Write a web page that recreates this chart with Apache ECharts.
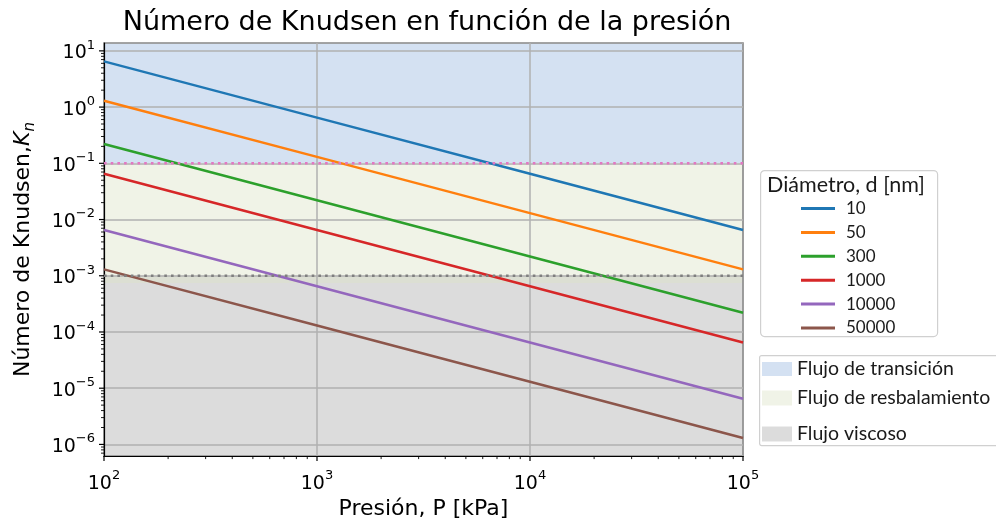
<!DOCTYPE html>
<html><head><meta charset="utf-8">
<script src="https://cdn.jsdelivr.net/npm/echarts@6/dist/echarts.min.js"></script>
<style>html,body{margin:0;padding:0;background:#fff}#c{width:996px;height:525px}</style>
</head><body><div id="c"></div><script>
// ---- data ----
const pressure = [100, 1000, 10000, 100000];
const diameterNames = ['10', '50', '300', '1000', '10000', '50000'];
const kn10    = [6.5, 0.65, 0.065, 0.0065];
const kn50    = [1.3, 0.13, 0.013, 0.0013];
const kn300   = [0.22, 0.022, 0.0022, 0.00022];
const kn1000  = [0.065, 0.0065, 0.00065, 0.000065];
const kn10000 = [0.0065, 0.00065, 0.000065, 0.0000065];
const kn50000 = [0.0013, 0.00013, 0.000013, 0.0000013];
const knSeries = [kn10, kn50, kn300, kn1000, kn10000, kn50000];
const regionNames = ['Flujo de transición', 'Flujo de resbalamiento', 'Flujo viscoso'];
const xRange = [100, 100000];
const yRange = [6.2e-7, 13.8];
const transitionBand = [0.1, 13.8];
const slipBand = [0.001, 0.1];
const viscousBand = [6.2e-7, 0.001];
const overlapBand = [7.4e-4, 0.001];
const transitionLimit = [0.1, 0.1];
const slipLimit = [0.001, 0.001];
const xMajorTicks = [100, 1000, 10000, 100000];
const yMajorTicks = [1e-6, 1e-5, 1e-4, 1e-3, 1e-2, 1e-1, 1, 10];
const minorMultipliers = [2, 3, 4, 5, 6, 7, 8, 9];

// ---- style ----
const lineColors = ['#1f77b4', '#ff7f0e', '#2ca02c', '#d62728', '#9467bd', '#8c564b'];
const regionColors = ['#d4e1f2', '#f0f3e7', '#dcdcdc'];
const FONT = 'DejaVu Sans';
const LFONT = 'Lato';

function minorOf(majors, lo, hi) {
  const out = [];
  const decades = [majors[0] / 10].concat(majors);
  decades.forEach(d => minorMultipliers.forEach(m => { const v = d * m; if (v > lo && v < hi) out.push(v); }));
  return out;
}
const xMinorTicks = minorOf(xMajorTicks, xRange[0], xRange[1]);
const yMinorTicks = minorOf(yMajorTicks, yRange[0], yRange[1]);

function powLabel(v) {
  const l = Math.log10(v), e = Math.round(l);
  if (Math.abs(l - e) > 0.01) return '';
  return '{b|10}{s|' + (e < 0 ? '\u2212' + (-e) : e) + '}';
}
const labelRich = {
  b: { fontFamily: FONT, fontSize: 19, lineHeight: 24, verticalAlign: 'bottom', color: '#000' },
  s: { fontFamily: FONT, fontSize: 13, lineHeight: 24, verticalAlign: 'top', color: '#000' }
};

function bandSeries(name, band, color, z) {
  return {
    type: 'custom', name: name, z: z, silent: true, clip: true,
    itemStyle: { color: color },
    encode: { x: [0, 2], y: [1, 3] },
    data: [[xRange[0], band[0], xRange[1], band[1]]],
    renderItem: function (params, api) {
      const p1 = api.coord([api.value(0), api.value(1)]);
      const p2 = api.coord([api.value(2), api.value(3)]);
      return { type: 'rect', shape: { x: p1[0], y: p2[1], width: p2[0] - p1[0], height: p1[1] - p2[1] },
               style: { fill: color } };
    }
  };
}
function tickSeries(vals, axis, len, w) {
  return {
    type: 'custom', silent: true, clip: false, z: 6,
    data: vals.map(v => axis === 'x' ? [v, yRange[0]] : [xRange[0], v]),
    renderItem: function (params, api) {
      const p = api.coord([api.value(0), api.value(1)]);
      const shape = axis === 'x' ? { x1: p[0], y1: p[1], x2: p[0], y2: p[1] + len }
                                 : { x1: p[0] - len, y1: p[1], x2: p[0], y2: p[1] };
      return { type: 'line', shape: shape, style: { stroke: '#000', lineWidth: w } };
    }
  };
}

const series = [];
series.push(bandSeries(regionNames[0], transitionBand, regionColors[0], -3));
series.push(bandSeries(regionNames[1], slipBand, regionColors[1], -3));
series.push(bandSeries(regionNames[2], viscousBand, regionColors[2], -3));
series.push(bandSeries('overlap', overlapBand, '#dcdfd3', -2));
knSeries.forEach((arr, i) => series.push({
  type: 'line', name: diameterNames[i], showSymbol: false, symbol: 'none', z: 3,
  color: lineColors[i], lineStyle: { color: lineColors[i], width: 2.5 },
  data: pressure.map((p, j) => [p, arr[j]])
}));
series.push({ type: 'line', name: 'limTrans', symbol: 'none', z: 4, silent: true,
  lineStyle: { color: '#e377c2', width: 2.6, type: [2.6, 4.1] },
  data: xRange.map((x, j) => [x, transitionLimit[j]]) });
series.push({ type: 'line', name: 'limSlip', symbol: 'none', z: 4, silent: true,
  lineStyle: { color: '#7f7f7f', width: 2.6, type: [2.6, 4.1] },
  data: xRange.map((x, j) => [x, slipLimit[j]]) });
series.push(tickSeries(xMajorTicks, 'x', 5, 1.2));
series.push(tickSeries(yMajorTicks, 'y', 5, 1.2));
series.push(tickSeries(xMinorTicks, 'x', 3, 0.9));
series.push(tickSeries(yMinorTicks, 'y', 3, 0.9));

const chart = echarts.init(document.getElementById('c'), null, { renderer: 'canvas' });
chart.setOption({
  animation: false,
  backgroundColor: '#fff',
  title: { text: 'Número de Knudsen en función de la presión', left: 422, textAlign: 'center', top: 4,
    textStyle: { fontFamily: FONT, fontSize: 27, fontWeight: 'normal', color: '#000' } },
  grid: { left: 100, right: 253, top: 43, bottom: 65, show: true, borderColor: '#000', borderWidth: 1.2,
    backgroundColor: 'transparent' },
  xAxis: {
    type: 'log', logBase: 10, min: xRange[0], max: xRange[1], splitNumber: 3,
    name: 'Presión, P [kPa]', nameLocation: 'middle', nameGap: 41,
    nameTextStyle: { fontFamily: FONT, fontSize: 22, color: '#000' },
    axisLine: { show: true, lineStyle: { color: '#000', width: 1.2 } },
    axisTick: { show: false },
    axisLabel: { formatter: powLabel, rich: labelRich, margin: 13 },
    splitLine: { show: true, lineStyle: { color: '#b0b0b0', width: 1.5 } }
  },
  yAxis: {
    type: 'log', logBase: 10, min: yRange[0], max: yRange[1], splitNumber: 7,
    name: 'Número de Knudsen,{k|K}{n|n}', nameLocation: 'middle', nameGap: 66, nameRotate: 90,
    nameTextStyle: { fontFamily: FONT, fontSize: 22, color: '#000', lineHeight: 30,
      rich: { k: { fontFamily: FONT, fontSize: 22, fontStyle: 'italic', lineHeight: 30, color: '#000' },
              n: { fontFamily: FONT, fontSize: 15, fontStyle: 'italic', lineHeight: 30, verticalAlign: 'bottom', color: '#000' } } },
    axisLine: { show: true, lineStyle: { color: '#000', width: 1.2 } },
    axisTick: { show: false },
    axisLabel: { formatter: powLabel, rich: labelRich, margin: 9 },
    splitLine: { show: true, lineStyle: { color: '#b0b0b0', width: 1.5 } }
  },
  legend: [
    { data: diameterNames, orient: 'vertical', left: 801, top: 200, padding: 0, itemGap: 6.9,
      icon: 'rect', itemWidth: 34, itemHeight: 3, selectedMode: false,
      textStyle: { fontFamily: LFONT, fontSize: 17, lineHeight: 16, color: '#1a1a1a', padding: [0, 0, 0, 6] } },
    { data: [regionNames[0]], left: 762, top: 359, padding: 0, icon: 'rect', itemWidth: 30, itemHeight: 14, selectedMode: false,
      textStyle: { fontFamily: LFONT, fontSize: 19.5, lineHeight: 14, color: '#1a1a1a' } },
    { data: [regionNames[1]], left: 762, top: 388, padding: 0, icon: 'rect', itemWidth: 30, itemHeight: 15, selectedMode: false,
      textStyle: { fontFamily: LFONT, fontSize: 19.5, lineHeight: 15, color: '#1a1a1a' } },
    { data: [regionNames[2]], left: 762, top: 424, padding: 0, icon: 'rect', itemWidth: 30, itemHeight: 15, selectedMode: false,
      textStyle: { fontFamily: LFONT, fontSize: 19.5, lineHeight: 15, color: '#1a1a1a' } }
  ],
  graphic: [
    { type: 'rect', left: 760, top: 170, z: 1, shape: { width: 177, height: 166, r: 4 },
      style: { fill: '#fff', stroke: '#d0d0d0', lineWidth: 1.2 } },
    { type: 'text', left: 767, top: 174, z: 5,
      style: { text: 'Diámetro, d [nm]', fontFamily: LFONT, fontSize: 21.5, fill: '#1a1a1a' } },
    { type: 'rect', left: 759, top: 355, z: 1, shape: { width: 250, height: 90, r: 2 },
      style: { fill: '#fff', stroke: '#d0d0d0', lineWidth: 1.2 } }
  ],
  series: series
});
</script></body></html>
